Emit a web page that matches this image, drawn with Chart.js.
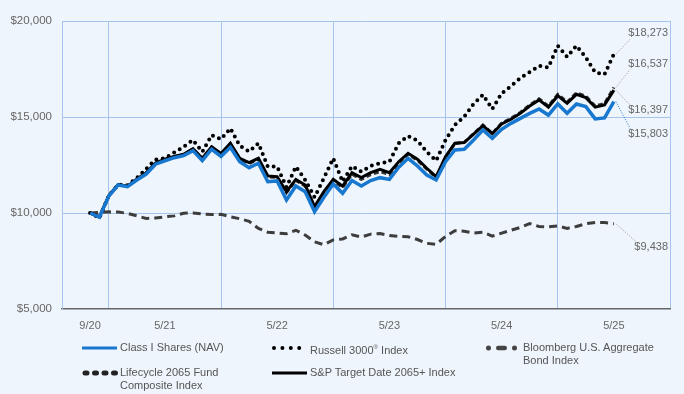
<!DOCTYPE html>
<html>
<head>
<meta charset="utf-8">
<script src="https://cdn.jsdelivr.net/npm/chart.js@4"></script>
<style>
  body { margin: 0; background: #eff5fc; font-family: "Liberation Sans", Arial, sans-serif; }
  #wrap { position: relative; width: 684px; height: 394px; }
  .lg { position: absolute; font-size: 11px; color: #555; line-height: 13px; white-space: nowrap; }
  .lg svg { position: absolute; overflow: visible; }
</style>
</head>
<body>
<div id="wrap">
  <canvas id="growthChart" width="684" height="394"></canvas>
  <div id="legend"></div>
</div>
<script>
// month index 0 = 9/20 ... 56 = 5/25
const X_TICK_MONTHS = [0, 8, 20, 32, 44, 56];
const X_TICK_LABELS = ['9/20', '5/21', '5/22', '5/23', '5/24', '5/25'];
const GRID_MONTHS = [2, 14, 26, 38, 50, 62];
const Y_TICKS = [5000, 10000, 15000, 20000];

const CLASS_I = [10000, 9780, 10880, 11460, 11370, 11720, 12030, 12540, 12720, 12880, 12990, 13250, 12730, 13320, 12950,
  13420, 12670, 12360, 12590, 11630, 11670, 10680, 11410, 11110, 10070, 10820, 11510, 11030, 11690, 11410,
  11690, 11840, 11750, 12380, 12850, 12450, 11980, 11720, 12670, 13280, 13320, 13800, 14320, 13890, 14360,
  14670, 14930, 15190, 15420, 15100, 15680, 15190, 15680, 15540, 14900, 14950, 15803];

const RUSSELL = [10000, 9740, 10900, 11480, 11450, 11820, 12300, 12780, 12850, 13150, 13450, 13800, 13180, 14060, 13840,
  14410, 13510, 13200, 13630, 12410, 12420, 11340, 12420, 11720, 10820, 11820, 12850, 11630, 12450, 12150,
  12450, 12590, 12670, 13630, 14010, 13770, 13180, 12720, 13800, 14580, 15020, 15680, 16160, 15420, 16230,
  16610, 17030, 17340, 17670, 17580, 18710, 18130, 18710, 18100, 17320, 17220, 18273];

const BLOOMBERG = [10000, 10030, 10060, 10050, 9980, 9850, 9720, 9740, 9800, 9850, 9990, 10000, 9950, 9920, 9930,
  9800, 9700, 9570, 9200, 9000, 8960, 8920, 9100, 8850, 8500, 8350, 8600, 8650, 8860, 8750,
  8900, 8930, 8830, 8780, 8760, 8620, 8420, 8370, 8780, 9080, 9050, 8960, 9000, 8800, 8950,
  9100, 9250, 9450, 9300, 9280, 9330, 9200, 9300, 9440, 9500, 9500, 9438];

const LIFECYCLE = [10000, 9790, 10890, 11470, 11390, 11750, 12080, 12580, 12790, 12940, 13040, 13330, 12830, 13430, 13080,
  13600, 12820, 12580, 12800, 11880, 11850, 11060, 11700, 11400, 10280, 11050, 11680, 11330, 12020, 11750,
  12000, 12150, 12000, 12600, 13060, 12750, 12280, 11850, 12900, 13620, 13680, 14130, 14580, 14150, 14680,
  14930, 15240, 15620, 15950, 15570, 16180, 15780, 16260, 16090, 15570, 15700, 16537];

const SP_TARGET = [10000, 9800, 10900, 11480, 11400, 11760, 12100, 12600, 12800, 12950, 13060, 13350, 12850, 13450, 13100,
  13630, 12850, 12620, 12850, 11930, 11890, 11110, 11750, 11460, 10330, 11110, 11750, 11400, 12100, 11850,
  12100, 12270, 12100, 12670, 13110, 12800, 12330, 11890, 12930, 13630, 13670, 14110, 14550, 14130, 14640,
  14880, 15190, 15570, 15890, 15510, 16110, 15710, 16180, 16010, 15510, 15630, 16397];

const BLUE = '#1878d0';
const GRID = '#a6c3ec';

const toXY = arr => arr.map((v, i) => ({ x: i, y: v }));
const money = v => '$' + v.toLocaleString('en-US');

// end-of-line value labels: dataset index, vertical shift from line end
const END_LABELS = [
  { ds: 1, dy: -21, color: '#999' },
  { ds: 3, dy: -24, color: '#999' },
  { ds: 4, dy: 20, color: '#999' },
  { ds: 0, dy: 32, color: BLUE },
  { ds: 2, dy: 23, color: '#999' }
];

const endLabelPlugin = {
  id: 'endLabels',
  afterDatasetsDraw(chart) {
    const ctx = chart.ctx;
    const right = chart.chartArea.right - 2;
    ctx.save();
    ctx.font = '11px "Liberation Sans", Arial, sans-serif';
    ctx.textBaseline = 'middle';
    ctx.textAlign = 'right';
    END_LABELS.forEach(l => {
      const ds = chart.data.datasets[l.ds];
      const last = ds.data[ds.data.length - 1];
      const pt = chart.getDatasetMeta(l.ds).data[ds.data.length - 1];
      const text = money(last.y);
      const w = ctx.measureText(text).width;
      const ly = pt.y + l.dy;
      const ey = l.dy < 0 ? ly + 6 : ly - 5;
      ctx.strokeStyle = l.color;
      ctx.lineWidth = 1;
      ctx.setLineDash([1, 1.5]);
      ctx.beginPath();
      ctx.moveTo(pt.x + 2, pt.y);
      ctx.lineTo(right - w + 2, ey);
      ctx.stroke();
      ctx.setLineDash([]);
      ctx.fillStyle = '#666';
      ctx.fillText(text, right, ly);
    });
    ctx.restore();
  }
};

new Chart(document.getElementById('growthChart'), {
  type: 'line',
  data: {
    datasets: [
      { label: 'Class I Shares (NAV)', data: toXY(CLASS_I), borderColor: BLUE, borderWidth: 3.5, order: 0 },
      { label: 'Russell 3000® Index', data: toXY(RUSSELL), borderColor: '#000', borderWidth: 4,
        borderDash: [0, 6.5], borderCapStyle: 'round', order: 3 },
      { label: 'Bloomberg U.S. Aggregate Bond Index', data: toXY(BLOOMBERG), borderColor: '#3d3d3d', borderWidth: 3,
        borderDash: [8, 5], order: 4 },
      { label: 'Lifecycle 2065 Fund Composite Index', data: toXY(LIFECYCLE), borderColor: '#333', borderWidth: 3,
        borderDash: [5, 3], order: 2 },
      { label: 'S&P Target Date 2065+ Index', data: toXY(SP_TARGET), borderColor: '#000', borderWidth: 3, order: 1 }
    ]
  },
  options: {
    responsive: false,
    animation: false,
    elements: { point: { radius: 0 }, line: { tension: 0 } },
    layout: { padding: { top: 21, right: 14, bottom: 60, left: 0 } },
    scales: {
      x: {
        type: 'linear',
        min: -3,
        max: 62,
        afterBuildTicks: axis => {
          axis.ticks = [...X_TICK_MONTHS, ...GRID_MONTHS].sort((a, b) => a - b).map(v => ({ value: v }));
        },
        afterFit: axis => { axis.height = 25; },
        ticks: {
          autoSkip: false,
          maxRotation: 0,
          padding: 10,
          color: '#666',
          font: { family: '"Liberation Sans", Arial, sans-serif', size: 11 },
          callback: v => {
            const k = X_TICK_MONTHS.indexOf(v);
            return k >= 0 ? X_TICK_LABELS[k] : '';
          }
        },
        grid: {
          drawTicks: false,
          color: c => GRID_MONTHS.includes(c.tick.value) ? GRID : 'rgba(0,0,0,0)'
        },
        border: { color: '#666', width: 1.5 }
      },
      y: {
        min: 5000,
        max: 20000,
        afterBuildTicks: axis => { axis.ticks = Y_TICKS.map(v => ({ value: v })); },
        afterFit: axis => { axis.width = 62; },
        ticks: {
          padding: 10,
          color: '#666',
          font: { family: '"Liberation Sans", Arial, sans-serif', size: 11.5 },
          callback: v => money(v)
        },
        grid: {
          drawTicks: false,
          color: c => c.tick.value === 5000 ? 'rgba(0,0,0,0)' : GRID
        },
        border: { color: GRID }
      }
    },
    plugins: {
      legend: { display: false },
      tooltip: { enabled: false }
    }
  },
  plugins: [endLabelPlugin]
});

// html legend under the chart
const LEGEND_ITEMS = [
  { text: 'Class I Shares (NAV)', x: 82, y: 348, sample: `<line x1="0" y1="4" x2="35" y2="4" stroke="${BLUE}" stroke-width="3"/>` },
  { text: 'Russell 3000<sup style="font-size:6px">®</sup> Index', x: 272, y: 348,
    sample: '<line x1="2" y1="4" x2="35" y2="4" stroke="#000" stroke-width="4" stroke-linecap="round" stroke-dasharray="0 8.4"/>' },
  { text: 'Bloomberg U.S. Aggregate<br>Bond Index', x: 485, y: 348,
    sample: '<circle cx="3.5" cy="4" r="2.5" fill="#444"/><rect x="11" y="1.7" width="11" height="4.6" rx="2.3" fill="#444"/><circle cx="29.5" cy="4" r="2.5" fill="#444"/>' },
  { text: 'Lifecycle 2065 Fund<br>Composite Index', x: 82, y: 373,
    sample: '<line x1="3" y1="4" x2="34" y2="4" stroke="#222" stroke-width="5" stroke-linecap="round" stroke-dasharray="2 7.5"/>' },
  { text: 'S&amp;P Target Date 2065+ Index', x: 272, y: 373, sample: '<line x1="0" y1="4" x2="35" y2="4" stroke="#000" stroke-width="3"/>' }
];

const legendEl = document.getElementById('legend');
LEGEND_ITEMS.forEach(item => {
  const d = document.createElement('div');
  d.className = 'lg';
  d.style.left = item.x + 'px';
  d.style.top = (item.y - 7) + 'px';
  d.innerHTML = `<svg width="37" height="8" style="left:0;top:3px">${item.sample}</svg>` +
    `<div style="margin-left:38px">${item.text}</div>`;
  legendEl.appendChild(d);
});
</script>
</body>
</html>
